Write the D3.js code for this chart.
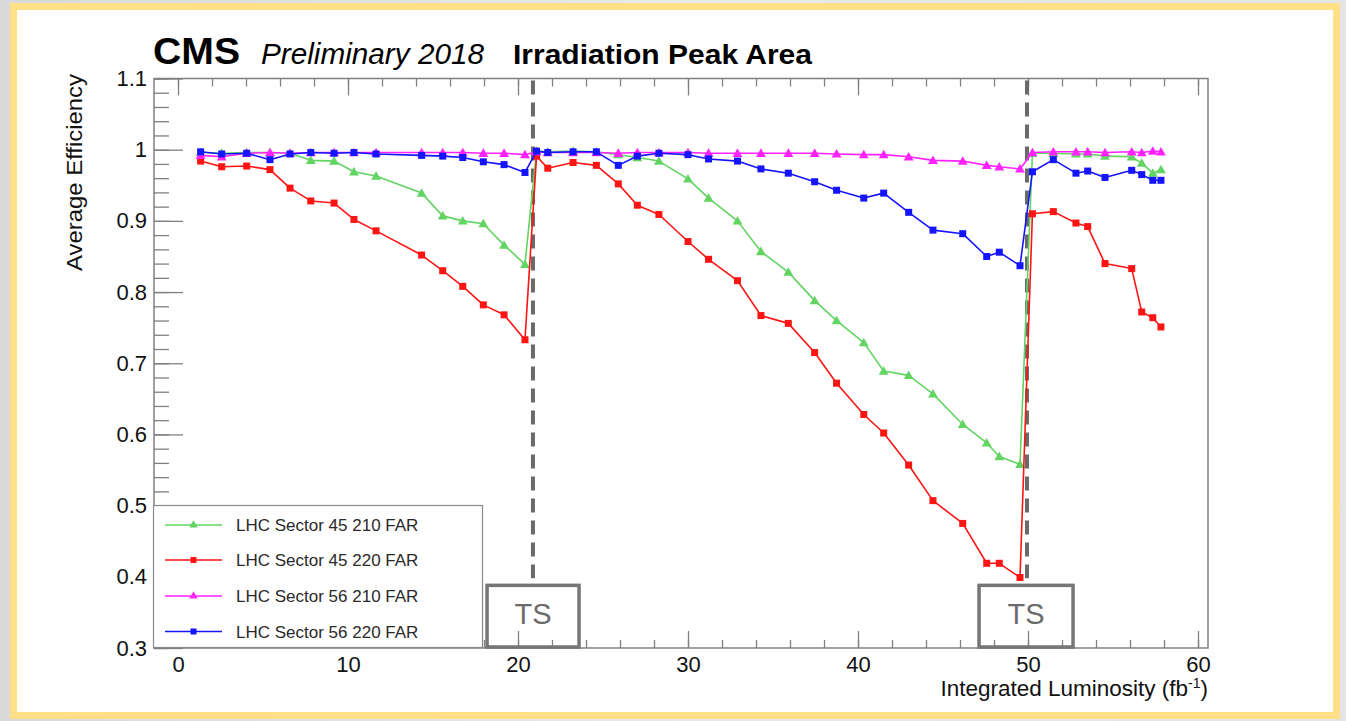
<!DOCTYPE html>
<html>
<head>
<meta charset="utf-8">
<script src="https://cdn.jsdelivr.net/npm/d3@7"></script>
<style>
  html, body { margin: 0; padding: 0; background: #e6e6e6; }
  svg { display: block; }
  text { font-family: "Liberation Sans", Arial, Helvetica, sans-serif; }
</style>
</head>
<body>
<svg id="chart" width="1346" height="721"></svg>
<script>
// Integrated luminosity (fb^-1) of each measurement
const lumi = [
  1.33, 2.57, 4.04, 5.41, 6.59, 7.81, 9.18, 10.35, 11.65, 14.33, 15.57, 16.75, 17.96, 19.18, 20.41,
  21.09, 21.75, 23.24, 24.61, 25.90, 27.02, 28.29, 30.00, 31.21, 32.91, 34.29, 35.90, 37.45, 38.74,
  40.34, 41.51, 42.98, 44.41, 46.16, 47.57, 48.31, 49.53,
  50.26, 51.49, 52.82, 53.51, 54.53, 56.10, 56.69, 57.34, 57.82
];

// Average efficiency per detector plane
const sector45_210 = [
  0.996, 0.995, 0.996, 0.996, 0.995, 0.985, 0.984, 0.969, 0.963, 0.939, 0.907, 0.900, 0.896, 0.866, 0.839,
  0.998, 0.997, 0.998, 0.997, 0.993, 0.989, 0.984, 0.959, 0.932, 0.900, 0.857, 0.828, 0.788, 0.760,
  0.729, 0.689, 0.683, 0.657, 0.614, 0.588, 0.569, 0.558,
  0.995, 0.995, 0.994, 0.994, 0.991, 0.990, 0.981, 0.967, 0.972
];
const sector45_220 = [
  0.984, 0.976, 0.977, 0.972, 0.946, 0.928, 0.925, 0.902, 0.886, 0.852, 0.830, 0.808, 0.782, 0.768, 0.733,
  0.991, 0.974, 0.982, 0.978, 0.952, 0.922, 0.909, 0.871, 0.846, 0.816, 0.767, 0.756, 0.715, 0.672,
  0.628, 0.602, 0.557, 0.507, 0.475, 0.419, 0.419, 0.399,
  0.910, 0.913, 0.897, 0.892, 0.840, 0.833, 0.772, 0.764, 0.751
];
const sector56_210 = [
  0.992, 0.990, 0.995, 0.996, 0.995, 0.996, 0.996, 0.996, 0.996, 0.996, 0.996, 0.996, 0.995, 0.995, 0.993,
  0.997, 0.996, 0.996, 0.996, 0.995, 0.996, 0.996, 0.996, 0.995, 0.995, 0.995, 0.995, 0.995, 0.994,
  0.993, 0.993, 0.990, 0.985, 0.984, 0.978, 0.976, 0.973,
  0.996, 0.997, 0.997, 0.997, 0.996, 0.997, 0.996, 0.998, 0.997
];
const sector56_220 = [
  0.997, 0.994, 0.995, 0.986, 0.994, 0.996, 0.995, 0.996, 0.994, 0.992, 0.991, 0.989, 0.983, 0.979, 0.968,
  0.998, 0.996, 0.997, 0.997, 0.978, 0.991, 0.995, 0.993, 0.987, 0.984, 0.973, 0.967, 0.955, 0.943,
  0.932, 0.939, 0.912, 0.887, 0.882, 0.850, 0.856, 0.837,
  0.969, 0.986, 0.967, 0.970, 0.961, 0.971, 0.965, 0.957, 0.957
];

const seriesNames = ["LHC Sector 45 210 FAR", "LHC Sector 45 220 FAR", "LHC Sector 56 210 FAR", "LHC Sector 56 220 FAR"];
const seriesColors = ["#62d462", "#ff1414", "#ff22ff", "#1414ff"];
const seriesMarkers = ["triangle", "square", "triangle", "square"];

const xTicks = [0, 10, 20, 30, 40, 50, 60];
const yTicks = [0.3, 0.4, 0.5, 0.6, 0.7, 0.8, 0.9, 1.0, 1.1];

// Technical stops: dashed marker position and label box extent
const techStops = [20.88, 49.94];
const tsBoxes = [[18.18, 23.59], [47.12, 52.65]];
const tsLabel = "TS";

const svg = d3.select("#chart");

// page backdrop and yellow-bordered panel
const bg = svg.append("defs").append("linearGradient").attr("id", "backdrop");
bg.append("stop").attr("offset", "0%").attr("stop-color", "#d9d9d9");
bg.append("stop").attr("offset", "50%").attr("stop-color", "#e9e9e9");
bg.append("stop").attr("offset", "100%").attr("stop-color", "#e4e4e4");
svg.append("rect").attr("width", 1346).attr("height", 721).attr("fill", "url(#backdrop)");
svg.append("rect").attr("x", 13.5).attr("y", 6.5).attr("width", 1323).attr("height", 709)
  .attr("fill", "#ffffff").attr("stroke", "#ffe088").attr("stroke-width", 7);

const frame = { left: 154, right: 1208, top: 78.5, bottom: 648 };
const x = d3.scaleLinear().domain([-1.412, 60.588]).range([frame.left, frame.right]);
const y = d3.scaleLinear().domain([0.3, 1.1]).range([frame.bottom, frame.top]);

// header
const header = svg.append("g");
header.append("text").attr("x", 153).attr("y", 64).attr("font-size", 36).attr("font-weight", "bold")
  .attr("textLength", 87).attr("lengthAdjust", "spacingAndGlyphs").text("CMS");
header.append("text").attr("x", 261).attr("y", 64).attr("font-size", 29).attr("font-style", "italic")
  .attr("textLength", 223).attr("lengthAdjust", "spacingAndGlyphs").text("Preliminary 2018");
header.append("text").attr("x", 513).attr("y", 64).attr("font-size", 28).attr("font-weight", "bold")
  .attr("textLength", 299).attr("lengthAdjust", "spacingAndGlyphs").text("Irradiation Peak Area");

// axes
const axisColor = "#808080";
function styleAxis(g) {
  g.select(".domain").remove();
  g.selectAll("line").attr("stroke", axisColor).attr("stroke-width", 1.3);
  g.selectAll("text").attr("fill", "#111").attr("font-size", 22)
    .attr("font-family", "'Liberation Sans', Arial, sans-serif");
}
const xMinor = d3.range(0, 61, 2);
const yMinor = d3.range(0.3, 1.1001, 0.02);

svg.append("g").attr("transform", `translate(0,${frame.bottom})`)
  .call(d3.axisBottom(x).tickValues(xMinor).tickSize(-8).tickFormat(""))
  .call(styleAxis);
svg.append("g").attr("transform", `translate(0,${frame.bottom})`)
  .call(d3.axisBottom(x).tickValues(xTicks).tickSize(-17).tickPadding(8).tickFormat(d3.format("d")))
  .call(styleAxis);
svg.append("g").attr("transform", `translate(0,${frame.top})`)
  .call(d3.axisTop(x).tickValues(xMinor).tickSize(-8).tickFormat(""))
  .call(styleAxis);
svg.append("g").attr("transform", `translate(0,${frame.top})`)
  .call(d3.axisTop(x).tickValues(xTicks).tickSize(-17).tickFormat(""))
  .call(styleAxis);
svg.append("g").attr("transform", `translate(${frame.left},0)`)
  .call(d3.axisLeft(y).tickValues(yMinor).tickSize(-15).tickFormat(""))
  .call(styleAxis);
svg.append("g").attr("transform", `translate(${frame.left},0)`)
  .call(d3.axisLeft(y).tickValues(yTicks).tickSize(-29).tickPadding(7).tickFormat(d3.format("~g")))
  .call(styleAxis);

svg.append("rect").attr("x", frame.left).attr("y", frame.top)
  .attr("width", frame.right - frame.left).attr("height", frame.bottom - frame.top)
  .attr("fill", "none").attr("stroke", axisColor).attr("stroke-width", 1.5);

// axis titles
const xt = svg.append("text").attr("x", frame.right).attr("y", 696).attr("text-anchor", "end")
  .attr("font-size", 22.5).attr("fill", "#111");
xt.append("tspan").text("Integrated Luminosity (fb");
xt.append("tspan").attr("font-size", 14).attr("dy", -8).text("-1");
xt.append("tspan").attr("dy", 8).text(")");

svg.append("text").attr("transform", "translate(82,74) rotate(-90)").attr("text-anchor", "end")
  .attr("font-size", 22.5).attr("fill", "#111")
  .attr("textLength", 197).attr("lengthAdjust", "spacingAndGlyphs").text("Average Efficiency");

// technical-stop markers
svg.append("g").selectAll("line").data(techStops).join("line")
  .attr("x1", d => x(d)).attr("x2", d => x(d))
  .attr("y1", y(1.1) + 2).attr("y2", y(0.398))
  .attr("stroke", "#6a6a6a").attr("stroke-width", 4).attr("stroke-dasharray", "14,8");

// efficiency curves
const allSeries = [sector45_210, sector45_220, sector56_210, sector56_220];
const line = d3.line().x(d => x(d[0])).y(d => y(d[1]));
const triangle = d3.symbol().type(d3.symbolTriangle).size(42);

allSeries.forEach((vals, i) => {
  const pts = lumi.map((l, j) => [l, vals[j]]);
  const g = svg.append("g");
  g.append("path").datum(pts).attr("d", line).attr("fill", "none")
    .attr("stroke", seriesColors[i]).attr("stroke-width", 1.6).attr("stroke-linejoin", "round");
  if (seriesMarkers[i] === "square") {
    g.selectAll("rect").data(pts).join("rect")
      .attr("x", d => x(d[0]) - 3.5).attr("y", d => y(d[1]) - 3.5)
      .attr("width", 7).attr("height", 7).attr("fill", seriesColors[i]);
  } else {
    g.selectAll("path.m").data(pts).join("path").attr("class", "m")
      .attr("transform", d => `translate(${x(d[0])},${y(d[1]) + 0.8})`)
      .attr("d", triangle).attr("fill", seriesColors[i]);
  }
});

// legend
const legend = svg.append("g");
legend.append("rect").attr("x", 153.5).attr("y", 505.5).attr("width", 329).attr("height", 142)
  .attr("fill", "#ffffff").attr("stroke", "#8a8a8a").attr("stroke-width", 1.2);
const rowY = [525, 560, 596, 631.5];
seriesNames.forEach((name, i) => {
  const ry = rowY[i];
  legend.append("line").attr("x1", 165).attr("x2", 222).attr("y1", ry).attr("y2", ry)
    .attr("stroke", seriesColors[i]).attr("stroke-width", 1.6);
  if (seriesMarkers[i] === "square") {
    legend.append("rect").attr("x", 190.5).attr("y", ry - 3).attr("width", 6).attr("height", 6)
      .attr("fill", seriesColors[i]);
  } else {
    legend.append("path").attr("transform", `translate(193.5,${ry})`)
      .attr("d", d3.symbol().type(d3.symbolTriangle).size(30)).attr("fill", seriesColors[i]);
  }
  legend.append("text").attr("x", 236).attr("y", ry + 6).attr("font-size", 17)
    .attr("fill", "#2a2a2a").text(name);
});

// technical-stop boxes
tsBoxes.forEach(([a, b]) => {
  svg.append("rect").attr("x", x(a)).attr("y", y(0.388))
    .attr("width", x(b) - x(a)).attr("height", y(0.3) - y(0.388) - 1)
    .attr("fill", "none").attr("stroke", "#767676").attr("stroke-width", 3.5);
  svg.append("text").attr("x", (x(a) + x(b)) / 2).attr("y", 624).attr("text-anchor", "middle")
    .attr("font-family", "'Open Sans', sans-serif").attr("font-size", 29).attr("fill", "#6b6b6b")
    .text(tsLabel);
});
</script>
</body>
</html>
